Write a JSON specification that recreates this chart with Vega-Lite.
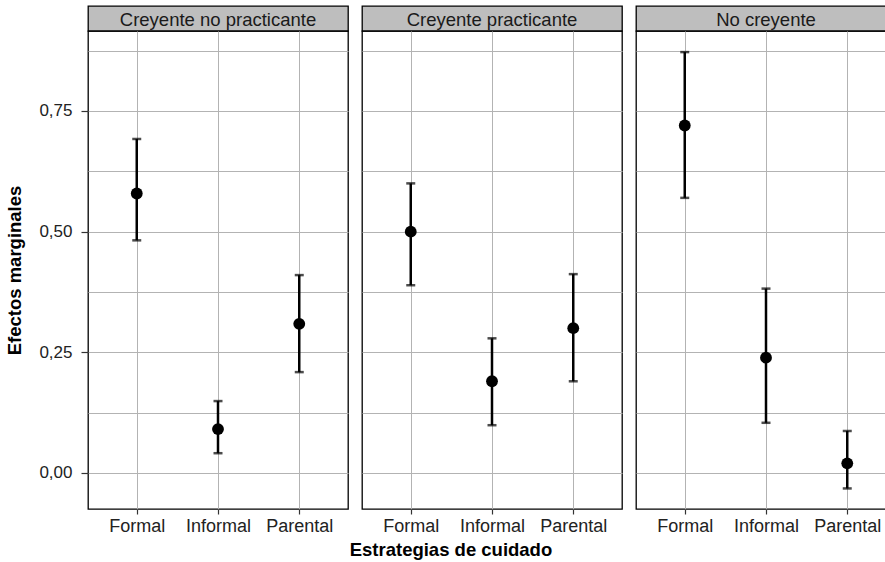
{
  "$schema": "https://vega.github.io/schema/vega-lite/v6.json",
  "background": "white",
  "padding": 5,
  "datasets": {
    "d": [
      {"panel": "Creyente no practicante", "estrategia": "Formal", "efecto": 0.579, "inf": 0.482, "sup": 0.692},
      {"panel": "Creyente no practicante", "estrategia": "Informal", "efecto": 0.091, "inf": 0.041, "sup": 0.149},
      {"panel": "Creyente no practicante", "estrategia": "Parental", "efecto": 0.309, "inf": 0.209, "sup": 0.41},
      {"panel": "Creyente practicante", "estrategia": "Formal", "efecto": 0.5, "inf": 0.389, "sup": 0.6},
      {"panel": "Creyente practicante", "estrategia": "Informal", "efecto": 0.19, "inf": 0.099, "sup": 0.279},
      {"panel": "Creyente practicante", "estrategia": "Parental", "efecto": 0.3, "inf": 0.19, "sup": 0.412},
      {"panel": "No creyente", "estrategia": "Formal", "efecto": 0.72, "inf": 0.57, "sup": 0.872},
      {"panel": "No creyente", "estrategia": "Informal", "efecto": 0.239, "inf": 0.104, "sup": 0.382},
      {"panel": "No creyente", "estrategia": "Parental", "efecto": 0.02, "inf": -0.032, "sup": 0.087}
    ]
  },
  "title": {
    "text": "Estrategias de cuidado",
    "orient": "bottom",
    "anchor": "middle",
    "frame": "bounds",
    "fontSize": 18.5,
    "fontWeight": "bold",
    "font": "Liberation Sans",
    "color": "#000",
    "offset": 5
  },
  "spacing": 12,
  "hconcat": [
    {
      "spacing": 0,
      "bounds": "flush",
      "vconcat": [
        {
          "width": 260, "height": 25,
          "data": {"values": [{"panel": "Creyente no practicante"}]},
          "view": {"fill": "#bebebe", "stroke": "#000", "strokeWidth": 1.3},
          "mark": {"type": "text", "fontSize": 18.5, "font": "Liberation Sans", "color": "#1a1a1a", "baseline": "middle", "dy": 1},
          "encoding": {"text": {"field": "panel"}}
        },
        {
          "width": 260, "height": 478,
          "data": {"name": "d"},
          "transform": [{"filter": "datum.panel === 'Creyente no practicante'"}],
          "view": {"stroke": "#000", "strokeWidth": 1.3},
          "encoding": {
            "x": {"field": "estrategia", "type": "nominal", "sort": ["Formal", "Informal", "Parental"], "scale": {"type": "point", "padding": 0.6},
                  "axis": {"title": null, "labelAngle": 0, "domain": false, "grid": true}}
          },
          "layer": [
            {
              "mark": {"type": "errorbar", "thickness": 2.5, "color": "#000", "ticks": {"size": 9, "thickness": 2.5, "color": "#000"}},
              "encoding": {
                "y": {"field": "inf", "type": "quantitative", "scale": {"domain": [-0.0746, 0.9157], "nice": false, "zero": false},
                      "axis": {"title": "Efectos marginales", "values": [0, 0.125, 0.25, 0.375, 0.5, 0.625, 0.75, 0.875], "grid": true, "domain": false,
                               "labelExpr": "datum.value * 4 % 1 != 0 ? '' : replace(format(datum.value, '.2f'), '.', ',')",
                               "tickOpacity": {"condition": {"test": "datum.value * 4 % 1 != 0", "value": 0}, "value": 1}}},
                "y2": {"field": "sup"}
              }
            },
            {
              "mark": {"type": "point", "filled": true, "size": 140, "color": "#000", "opacity": 1},
              "encoding": {"y": {"field": "efecto", "type": "quantitative"}}
            }
          ]
        }
      ]
    },
    {
      "spacing": 0,
      "bounds": "flush",
      "vconcat": [
        {
          "width": 260, "height": 25,
          "data": {"values": [{"panel": "Creyente practicante"}]},
          "view": {"fill": "#bebebe", "stroke": "#000", "strokeWidth": 1.3},
          "mark": {"type": "text", "fontSize": 18.5, "font": "Liberation Sans", "color": "#1a1a1a", "baseline": "middle", "dy": 1},
          "encoding": {"text": {"field": "panel"}}
        },
        {
          "width": 260, "height": 478,
          "data": {"name": "d"},
          "transform": [{"filter": "datum.panel === 'Creyente practicante'"}],
          "view": {"stroke": "#000", "strokeWidth": 1.3},
          "encoding": {
            "x": {"field": "estrategia", "type": "nominal", "sort": ["Formal", "Informal", "Parental"], "scale": {"type": "point", "padding": 0.6},
                  "axis": {"title": null, "labelAngle": 0, "domain": false, "grid": true}}
          },
          "layer": [
            {
              "mark": {"type": "errorbar", "thickness": 2.5, "color": "#000", "ticks": {"size": 9, "thickness": 2.5, "color": "#000"}},
              "encoding": {
                "y": {"field": "inf", "type": "quantitative", "scale": {"domain": [-0.0746, 0.9157], "nice": false, "zero": false},
                      "axis": {"title": null, "values": [0, 0.125, 0.25, 0.375, 0.5, 0.625, 0.75, 0.875], "grid": true, "domain": false, "labels": false, "ticks": false}},
                "y2": {"field": "sup"}
              }
            },
            {
              "mark": {"type": "point", "filled": true, "size": 140, "color": "#000", "opacity": 1},
              "encoding": {"y": {"field": "efecto", "type": "quantitative"}}
            }
          ]
        }
      ]
    },
    {
      "spacing": 0,
      "bounds": "flush",
      "vconcat": [
        {
          "width": 260, "height": 25,
          "data": {"values": [{"panel": "No creyente"}]},
          "view": {"fill": "#bebebe", "stroke": "#000", "strokeWidth": 1.3},
          "mark": {"type": "text", "fontSize": 18.5, "font": "Liberation Sans", "color": "#1a1a1a", "baseline": "middle", "dy": 1},
          "encoding": {"text": {"field": "panel"}}
        },
        {
          "width": 260, "height": 478,
          "data": {"name": "d"},
          "transform": [{"filter": "datum.panel === 'No creyente'"}],
          "view": {"stroke": "#000", "strokeWidth": 1.3},
          "encoding": {
            "x": {"field": "estrategia", "type": "nominal", "sort": ["Formal", "Informal", "Parental"], "scale": {"type": "point", "padding": 0.6},
                  "axis": {"title": null, "labelAngle": 0, "domain": false, "grid": true}}
          },
          "layer": [
            {
              "mark": {"type": "errorbar", "thickness": 2.5, "color": "#000", "ticks": {"size": 9, "thickness": 2.5, "color": "#000"}},
              "encoding": {
                "y": {"field": "inf", "type": "quantitative", "scale": {"domain": [-0.0746, 0.9157], "nice": false, "zero": false},
                      "axis": {"title": null, "values": [0, 0.125, 0.25, 0.375, 0.5, 0.625, 0.75, 0.875], "grid": true, "domain": false, "labels": false, "ticks": false}},
                "y2": {"field": "sup"}
              }
            },
            {
              "mark": {"type": "point", "filled": true, "size": 140, "color": "#000", "opacity": 1},
              "encoding": {"y": {"field": "efecto", "type": "quantitative"}}
            }
          ]
        }
      ]
    }
  ],
  "config": {
    "font": "Liberation Sans",
    "axis": {
      "gridColor": "#b3b3b3",
      "gridWidth": 1,
      "gridOpacity": 1,
      "tickColor": "#333",
      "tickWidth": 1.2,
      "labelFont": "Liberation Sans",
      "labelColor": "#222",
      "titleFont": "Liberation Sans",
      "titleFontSize": 18.5,
      "titleFontWeight": "bold",
      "titleColor": "#000"
    },
    "axisY": {"tickSize": 7, "labelPadding": 9, "titlePadding": 14, "labelFontSize": 17},
    "axisX": {"tickSize": 5, "labelPadding": 3, "labelFontSize": 18}
  }
}
